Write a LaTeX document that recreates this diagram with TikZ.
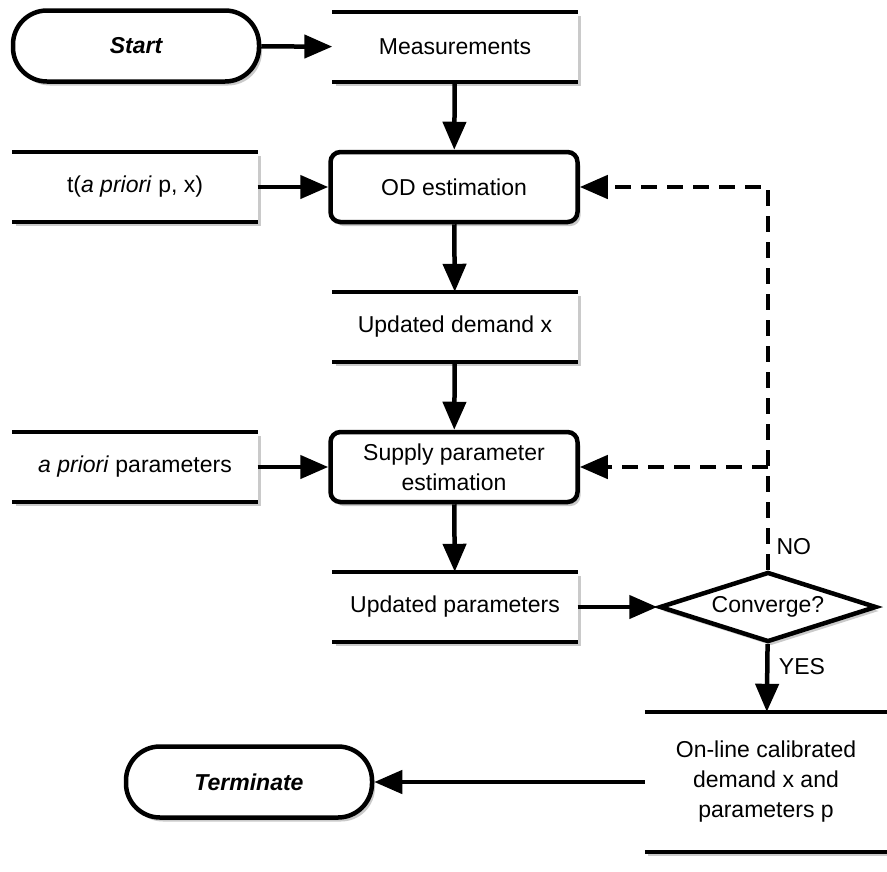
\documentclass[tikz,border=0pt]{standalone}
\usepackage{fontspec}
\setmainfont{Liberation Sans}
\usetikzlibrary{shapes.geometric,shadows,arrows.meta}
\begin{document}
\begin{tikzpicture}[x=1pt,y=-1pt,
  font=\fontsize{23}{30}\selectfont,
  shade/.style={drop shadow={shadow xshift=3pt,shadow yshift=-4pt,fill=black!35,opacity=0.6}},
  pill/.style={draw,line width=4.5pt,fill=white,shade,rounded corners=34pt,minimum width=246pt,minimum height=71pt,font=\fontsize{23}{30}\selectfont\bfseries\itshape},
  proc/.style={draw,line width=4.5pt,fill=white,shade,rounded corners=10pt,minimum width=247pt,minimum height=70pt,align=center},
  store/.style={fill=white,shade,minimum width=245pt,minimum height=70pt,align=center,inner sep=0pt},
  edge/.style={line width=4.5pt},
  flow/.style={line width=4.5pt,-{Triangle[length=28pt,width=23pt]}},
  back/.style={line width=4.5pt,dash pattern=on 16pt off 10pt,-{Triangle[length=28pt,width=23pt]}},
  decision/.style={diamond,draw,line width=4.5pt,fill=white,shade,aspect=3.1,minimum width=217pt,minimum height=70pt,inner sep=0pt}]
\useasboundingbox (0,0) rectangle (887,871);

% terminals
\node[pill] (start) at (136,46) {Start};
\node[pill] (term) at (249,782) {Terminate};

% data stores (top and bottom rules only)
\node[store] (meas) at (455,47) {Measurements};
\node[store] (tprior) at (135,187) {t(\textit{a priori} p, x)};
\node[store] (demand) at (455,327) {Updated demand x};
\node[store] (pprior) at (135,467) {\textit{a priori} parameters};
\node[store] (params) at (455,607) {Updated parameters};
\node[store,minimum width=242pt,minimum height=140pt] (final) at (766,782) {On-line calibrated\\demand x and\\parameters p};
\foreach \s in {meas,tprior,demand,pprior,params,final}{
  \draw[edge] (\s.north west) -- (\s.north east);
  \draw[edge] (\s.south west) -- (\s.south east);
}

% processes
\node[proc] (od) at (454,187) {OD estimation};
\node[proc] (supply) at (454,467) {Supply parameter\\estimation};

% decision
\node[decision] (conv) at (768,607) {\raisebox{6pt}{Converge?}};

% forward flow
\draw[flow] (start) -- (meas);
\draw[flow] (meas) -- (od);
\draw[flow] (tprior) -- (od);
\draw[flow] (od) -- (demand);
\draw[flow] (demand) -- (supply);
\draw[flow] (pprior) -- (supply);
\draw[flow] (supply) -- (params);
\draw[flow] (params) -- (conv);
\draw[flow] (conv) -- node[right=6pt,pos=0.33] {YES} (final);
\draw[flow] (final) -- (term);

% feedback when not converged
\coordinate (turn) at (768,187);
\coordinate (mid) at (768,467);
\draw[back] (conv.north) -- node[right=3pt,pos=0.06] {NO} (turn) -- (od.east);
\draw[back] (mid) -- (supply.east);
\end{tikzpicture}
\end{document}
